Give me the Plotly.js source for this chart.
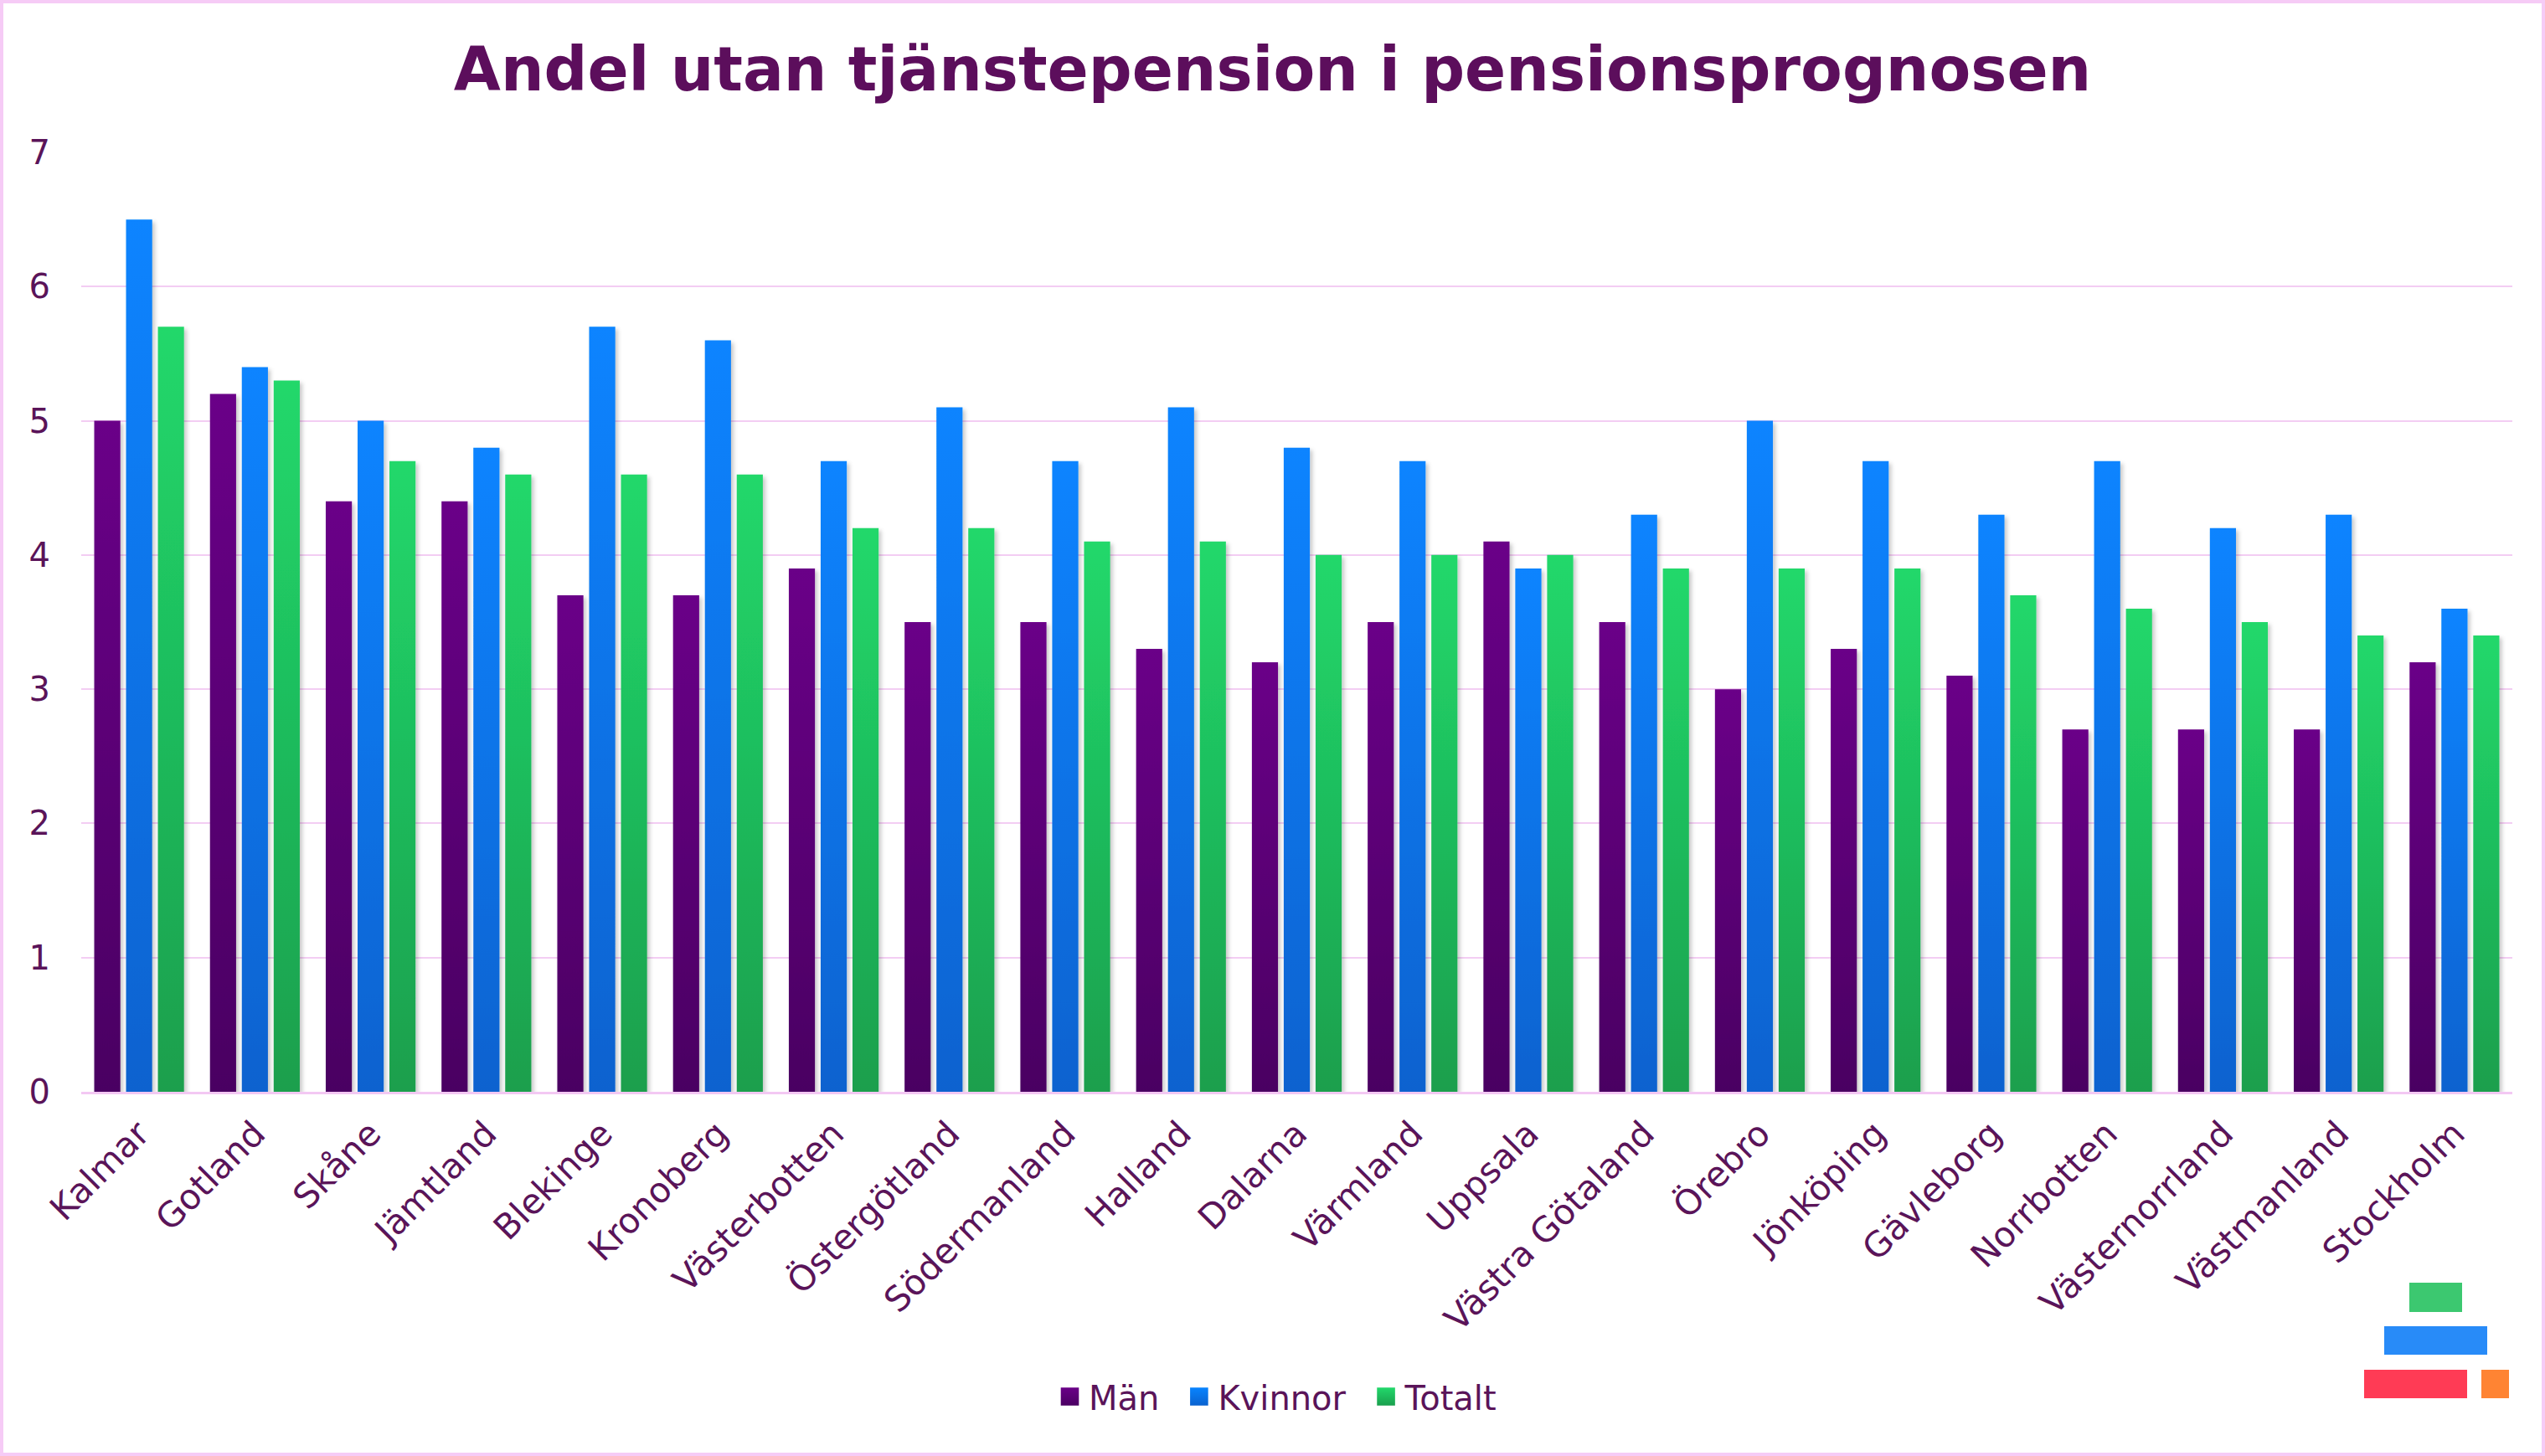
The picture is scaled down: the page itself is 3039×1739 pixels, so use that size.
<!DOCTYPE html>
<html>
<head>
<meta charset="utf-8">
<script src="https://cdn.plot.ly/plotly-3.0.1.min.js"></script>
<style>
  html, body { margin: 0; padding: 0; background: #ffffff; }
  #chart { width: 3039px; height: 1739px; }
  #frame { position: absolute; left: 0; top: 0; width: 3039px; height: 1739px; box-sizing: border-box; border: 4px solid #f6cbf6; pointer-events: none; }
</style>
</head>
<body>
<div id="chart"></div>
<div id="frame"></div>
<script>
const categories = ["Kalmar", "Gotland", "Skåne", "Jämtland", "Blekinge", "Kronoberg", "Västerbotten", "Östergötland", "Södermanland", "Halland", "Dalarna", "Värmland", "Uppsala", "Västra Götaland", "Örebro", "Jönköping", "Gävleborg", "Norrbotten", "Västernorrland", "Västmanland", "Stockholm"];
const man     = [5.0, 5.2, 4.4, 4.4, 3.7, 3.7, 3.9, 3.5, 3.5, 3.3, 3.2, 3.5, 4.1, 3.5, 3.0, 3.3, 3.1, 2.7, 2.7, 2.7, 3.2];
const kvinnor = [6.5, 5.4, 5.0, 4.8, 5.7, 5.6, 4.7, 5.1, 4.7, 5.1, 4.8, 4.7, 3.9, 4.3, 5.0, 4.7, 4.3, 4.7, 4.2, 4.3, 3.6];
const totalt  = [5.7, 5.3, 4.7, 4.6, 4.6, 4.6, 4.2, 4.2, 4.1, 4.1, 4.0, 4.0, 4.0, 3.9, 3.9, 3.9, 3.7, 3.6, 3.5, 3.4, 3.4];
const seriesNames = ["Män", "Kvinnor", "Totalt"];
const yTicks = [0, 1, 2, 3, 4, 5, 6, 7];

const W = 3039, H = 1739;
const M = { l: 97, r: 39, t: 182, b: 435 };
const PW = W - M.l - M.r, PH = H - M.t - M.b;
const px = x => (x - M.l) / PW;
const py = y => (H - M.b - y) / PH;

const textColor = "#5a1459";
const font = "DejaVu Sans, Verdana, sans-serif";
const grads = [
  { id: "gMan", top: "#6a0088", bot: "#4a0062" },
  { id: "gKv",  top: "#0884ff", bot: "#0a62cf" },
  { id: "gTot", top: "#22d86b", bot: "#1a9f4d" }
];

const traces = [man, kvinnor, totalt].map((vals, i) => ({
  type: "bar",
  name: seriesNames[i],
  x: categories,
  y: vals,
  marker: { color: grads[i].top, line: { width: 0 } },
  hoverinfo: "skip"
}));

function rect(x0, x1, y0, y1, color) {
  return { type: "rect", xref: "paper", yref: "paper", x0: px(x0), x1: px(x1), y0: py(y1), y1: py(y0),
           fillcolor: color, line: { width: 0 }, layer: "above" };
}

const layout = {
  width: W, height: H,
  margin: M,
  paper_bgcolor: "#ffffff",
  plot_bgcolor: "#ffffff",
  font: { family: font, color: textColor, size: 39 },
  title: {
    text: "<b>Andel utan tjänstepension i pensionsprognosen</b>",
    font: { family: font, size: 72.5, color: "#5c0e5c" },
    x: 0.5, xref: "container", xanchor: "center",
    y: 1 - 83 / H, yref: "container", yanchor: "middle"
  },
  barmode: "group",
  bargap: 0.175,
  bargroupgap: 0.18,
  xaxis: {
    type: "category",
    tickangle: -45,
    tickfont: { family: font, size: 41.5, color: textColor },
    showgrid: false,
    showline: true, linecolor: "#f3c8f3", linewidth: 3,
    ticks: "", ticklabelstandoff: 6,
    zeroline: false
  },
  yaxis: {
    range: [0, 7],
    tickvals: yTicks,
    tickfont: { family: font, size: 40, color: textColor },
    showgrid: true, gridcolor: "#f3cdf3", gridwidth: 2,
    zeroline: false, showline: false,
    ticks: "", ticklabelstandoff: 36
  },
  showlegend: true,
  legend: {
    orientation: "h",
    xref: "container", yref: "container",
    x: 1514 / W, xanchor: "center",
    y: 1 - 1668 / H, yanchor: "middle",
    font: { family: font, size: 40, color: textColor },
    itemwidth: 55,
    traceorder: "normal"
  },
  shapes: [
    rect(2877, 2940, 1532, 1567, "#3cc870"),
    rect(2847, 2970, 1584, 1618, "#288bf8"),
    rect(2823, 2946, 1636, 1670, "#ff3b55"),
    rect(2963, 2996, 1636, 1670, "#ff8433")
  ]
};

Plotly.newPlot("chart", traces, layout, { staticPlot: true, displayModeBar: false }).then(gd => {
  const svgNS = "http://www.w3.org/2000/svg";
  const svg = gd.querySelector(".main-svg");
  let defs = svg.querySelector("defs");
  if (!defs) { defs = document.createElementNS(svgNS, "defs"); svg.insertBefore(defs, svg.firstChild); }
  grads.forEach(g => {
    const lg = document.createElementNS(svgNS, "linearGradient");
    lg.setAttribute("id", g.id);
    lg.setAttribute("x1", "0"); lg.setAttribute("y1", "0");
    lg.setAttribute("x2", "0"); lg.setAttribute("y2", "1");
    [[0, g.top], [1, g.bot]].forEach(([o, c]) => {
      const s = document.createElementNS(svgNS, "stop");
      s.setAttribute("offset", o); s.setAttribute("stop-color", c);
      lg.appendChild(s);
    });
    defs.appendChild(lg);
  });
  const f = document.createElementNS(svgNS, "filter");
  f.setAttribute("id", "barShadow");
  f.setAttribute("x", "-20%"); f.setAttribute("y", "-5%");
  f.setAttribute("width", "150%"); f.setAttribute("height", "115%");
  const ds = document.createElementNS(svgNS, "feDropShadow");
  ds.setAttribute("dx", "3"); ds.setAttribute("dy", "3");
  ds.setAttribute("stdDeviation", "2.5");
  ds.setAttribute("flood-color", "#000"); ds.setAttribute("flood-opacity", "0.22");
  f.appendChild(ds);
  defs.appendChild(f);

  gd.querySelectorAll(".barlayer .trace").forEach((tr, i) => {
    tr.querySelectorAll(".point path").forEach(p => {
      p.style.fill = "url(#" + grads[i].id + ")";
      p.setAttribute("filter", "url(#barShadow)");
    });
  });
  gd.querySelectorAll(".legend .traces").forEach((tr, i) => {
    tr.querySelectorAll(".legendpoints path").forEach(p => {
      p.style.fill = "url(#" + grads[i].id + ")";
      const orig = p.getAttribute("transform") || "";
      p.setAttribute("transform", "translate(10,0) " + orig + " scale(1.8)");
    });
  });
});
</script>
</body>
</html>
